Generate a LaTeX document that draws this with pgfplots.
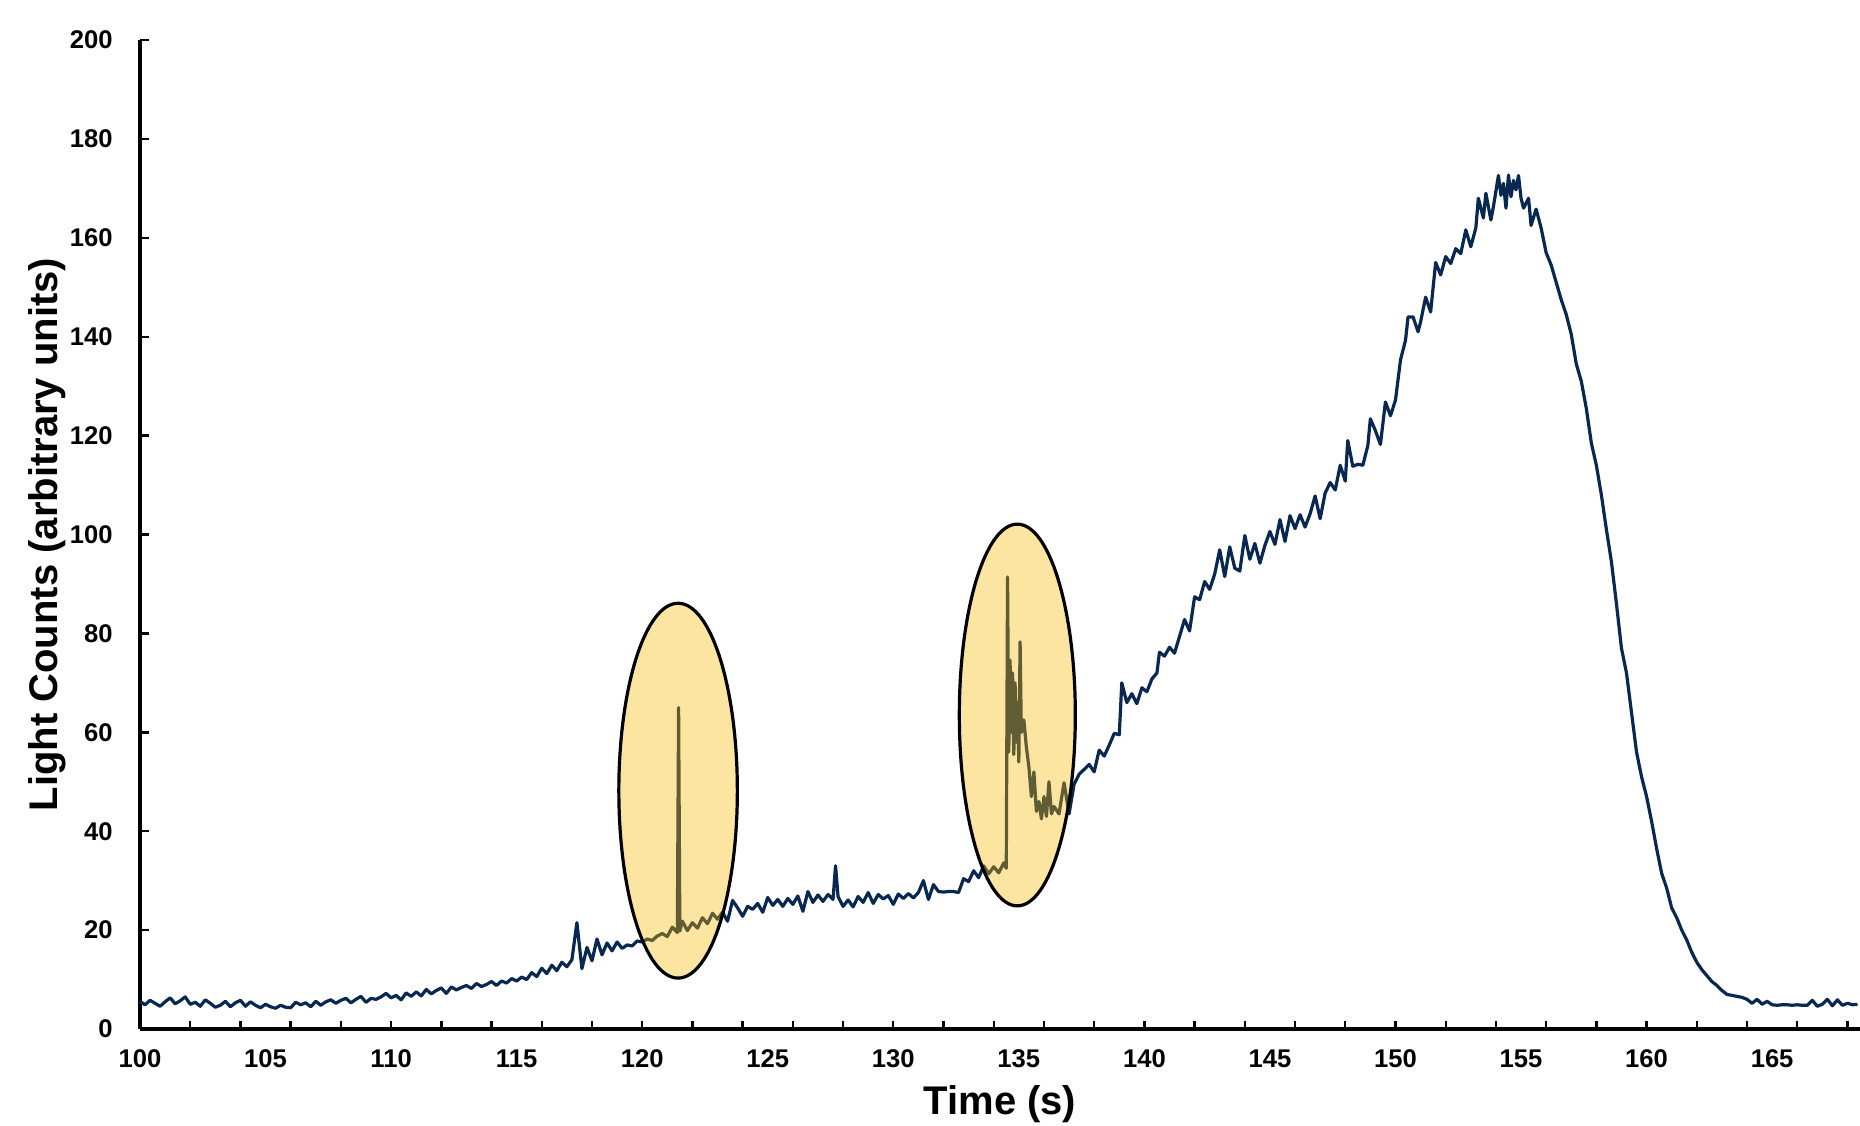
\documentclass[border=0pt]{standalone}
\usepackage{fontspec}
\setmainfont{Liberation Sans}
\usepackage{pgfplots}
\pgfplotsset{compat=1.18}
\definecolor{navy}{RGB}{8,40,82}
\definecolor{gold}{RGB}{247,182,0}

\begin{document}
\begin{tikzpicture}
\begin{axis}[
  scale only axis,
  width=430pt, height=247.25pt,
  xmin=100, xmax=168.5, ymin=0, ymax=200,
  axis lines=left,
  axis line style={-, line width=0.8pt, black},
  xtick={100,105,...,165},
  minor xtick={102,104,...,168},
  ytick={0,20,...,200},
  major x tick style={draw=none},
  minor x tick style={line width=0.6pt, black},
  major y tick style={line width=0.6pt, black},
  minor tick length=1.9pt,
  major tick length=2.2pt,
  tick align=inside,
  /pgf/number format/assume math mode=true,
  /pgf/number format/1000 sep={},
  tick label style={font=\fontsize{6.4}{7}\selectfont\bfseries},
  xticklabel style={yshift=-1.7pt},
  yticklabel style={xshift=-3.3pt},
  xlabel={Time (s)},
  ylabel={Light Counts (arbitrary units)},
  label style={font=\fontsize{10}{12}\selectfont\bfseries},
  xlabel style={at={(axis description cs:0.5,0)}, anchor=center, yshift=-18.8pt},
  ylabel style={at={(axis description cs:0,0.5)}, anchor=center, rotate=0, yshift=23.3pt},
  clip=false,
]
\addplot[navy, line width=0.8pt, line join=round] table[x=t, y=v] {
t v
100.0 5.6
100.2 4.9
100.4 5.8
100.6 5.2
100.8 4.6
101.0 5.5
101.2 6.3
101.4 5.1
101.6 5.7
101.8 6.5
102.0 5.0
102.2 5.4
102.4 4.6
102.6 5.9
102.8 5.2
103.0 4.4
103.2 4.8
103.4 5.6
103.6 4.5
103.8 5.3
104.0 5.8
104.2 4.6
104.4 5.5
104.6 4.8
104.8 4.3
105.0 5.0
105.2 4.5
105.4 4.2
105.6 4.8
105.8 4.4
106.0 4.3
106.2 5.4
106.4 4.9
106.6 5.3
106.8 4.5
107.0 5.6
107.2 4.8
107.4 5.5
107.6 5.9
107.8 5.2
108.0 5.8
108.2 6.2
108.4 5.3
108.6 6.0
108.8 6.6
109.0 5.4
109.2 6.2
109.4 6.0
109.6 6.5
109.8 7.2
110.0 6.3
110.2 6.8
110.4 5.9
110.6 7.3
110.8 6.6
111.0 7.5
111.2 6.7
111.4 8.0
111.6 7.1
111.8 7.8
112.0 8.3
112.2 7.2
112.4 8.5
112.6 7.9
112.8 8.4
113.0 8.8
113.2 8.2
113.4 9.2
113.6 8.6
113.8 9.0
114.0 9.6
114.2 8.8
114.4 9.7
114.6 9.3
114.8 10.2
115.0 9.7
115.2 10.5
115.4 10.0
115.6 11.4
115.8 10.6
116.0 12.3
116.2 11.2
116.4 12.9
116.6 11.8
116.8 13.5
117.0 12.6
117.2 14.0
117.4 21.5
117.6 12.2
117.8 16.5
118.0 13.8
118.2 18.2
118.4 15.0
118.6 17.4
118.8 15.8
119.0 17.6
119.2 16.3
119.4 17.0
119.6 16.8
119.8 17.8
120.0 17.6
120.2 18.2
120.4 17.9
120.6 18.8
120.8 19.3
121.0 18.7
121.2 20.6
121.4 19.5
121.45 65.0
121.5 19.8
121.6 21.8
121.8 19.9
122.0 21.5
122.2 20.4
122.4 22.5
122.6 21.3
122.8 23.4
123.0 22.2
123.2 23.6
123.4 21.8
123.6 26.0
123.8 24.5
124.0 22.8
124.2 24.8
124.4 24.2
124.6 25.4
124.8 23.6
125.0 26.6
125.2 25.0
125.4 26.2
125.6 24.8
125.8 26.4
126.0 25.2
126.2 26.9
126.4 23.8
126.6 27.8
126.8 25.6
127.0 27.1
127.2 25.8
127.4 27.2
127.6 26.2
127.7 33.0
127.8 26.8
128.0 24.8
128.2 26.1
128.4 24.7
128.6 26.8
128.8 25.6
129.0 27.6
129.2 25.4
129.4 27.2
129.6 26.3
129.8 27.0
130.0 25.2
130.2 27.3
130.4 26.4
130.6 27.4
130.8 26.5
131.0 27.6
131.2 30.0
131.4 26.2
131.6 29.2
131.8 27.8
132.0 27.7
132.2 27.8
132.4 27.8
132.6 27.6
132.8 30.4
133.0 29.8
133.2 32.0
133.4 30.6
133.6 33.0
133.8 31.4
134.0 32.8
134.2 31.6
134.4 33.6
134.5 32.5
134.55 91.4
134.6 56.0
134.65 74.6
134.7 60.0
134.75 72.0
134.8 55.5
134.85 70.0
134.9 58.0
134.95 66.0
135.0 54.0
135.05 78.3
135.1 60.0
135.2 62.5
135.3 57.0
135.4 53.0
135.5 47.0
135.6 52.0
135.7 44.0
135.8 46.0
135.9 42.5
136.0 47.0
136.1 43.0
136.2 50.0
136.3 43.5
136.4 45.0
136.6 43.5
136.8 49.8
137.0 43.5
137.2 49.5
137.4 51.5
137.6 52.5
137.8 53.5
138.0 52.0
138.2 56.4
138.4 55.2
138.6 57.4
138.8 59.8
139.0 59.5
139.1 70.0
139.3 66.0
139.5 67.8
139.7 65.8
139.9 69.0
140.1 68.2
140.3 70.8
140.5 72.0
140.6 76.2
140.8 75.4
141.0 77.2
141.2 76.0
141.4 79.4
141.6 82.8
141.8 80.5
142.0 87.4
142.2 86.8
142.4 90.5
142.6 88.9
142.8 92.0
143.0 96.9
143.2 91.5
143.4 97.5
143.6 93.2
143.8 92.6
144.0 99.8
144.2 95.0
144.4 98.2
144.6 94.2
144.8 97.8
145.0 100.6
145.2 98.0
145.4 103.0
145.6 98.6
145.8 103.8
146.0 101.2
146.2 104.0
146.4 101.5
146.6 104.2
146.8 107.8
147.0 103.2
147.2 108.4
147.4 110.5
147.6 109.0
147.8 114.0
148.0 110.8
148.1 119.0
148.3 113.8
148.5 114.2
148.7 114.0
148.9 118.0
149.0 123.4
149.2 121.0
149.4 118.2
149.6 126.8
149.8 124.0
150.0 127.2
150.2 135.3
150.4 139.3
150.5 144.0
150.7 144.0
150.9 141.0
151.0 143.0
151.2 148.0
151.4 145.0
151.6 155.0
151.8 152.5
152.0 156.2
152.2 154.8
152.4 157.8
152.6 156.8
152.8 161.6
153.0 158.2
153.2 162.0
153.3 168.0
153.5 164.0
153.6 169.0
153.8 163.6
153.9 166.3
154.1 172.6
154.2 168.6
154.3 171.0
154.4 166.0
154.5 172.7
154.6 168.3
154.7 171.6
154.8 169.7
154.9 172.6
155.0 168.0
155.1 166.0
155.3 168.0
155.4 162.5
155.6 165.8
155.8 162.0
156.0 157.0
156.2 154.5
156.4 151.0
156.6 147.5
156.8 144.5
157.0 140.5
157.2 134.5
157.4 131.0
157.6 125.5
157.8 118.5
158.0 114.0
158.2 108.0
158.4 101.0
158.6 94.5
158.8 86.0
159.0 77.0
159.2 72.0
159.4 64.0
159.6 56.0
159.8 51.0
160.0 47.0
160.2 42.0
160.4 36.5
160.6 31.5
160.8 28.5
161.0 24.5
161.2 22.5
161.4 20.0
161.6 18.0
161.8 15.5
162.0 13.5
162.2 12.0
162.4 10.8
162.6 9.6
162.8 8.8
163.0 7.8
163.2 7.0
163.4 6.8
163.6 6.6
163.8 6.4
164.0 6.0
164.2 5.2
164.4 6.0
164.6 5.0
164.8 5.6
165.0 4.9
165.2 4.8
165.4 4.9
165.6 4.9
165.8 4.8
166.0 4.9
166.2 4.8
166.4 4.8
166.6 5.8
166.8 4.6
167.0 5.0
167.2 6.0
167.4 4.7
167.6 5.9
167.8 4.8
168.0 5.2
168.2 4.9
168.4 5.0
};
\draw[black, line width=0.8pt, fill=gold, fill opacity=0.37]
  (axis cs:121.43,48.2) ellipse [x radius=2.36, y radius=37.9];
\draw[black, line width=0.8pt, fill=gold, fill opacity=0.37]
  (axis cs:134.94,63.5) ellipse [x radius=2.31, y radius=38.6];
\end{axis}
\pgfresetboundingbox
\path ([xshift=-35pt,yshift=-24pt]current axis.south west) rectangle ([yshift=10pt]current axis.north east);
\end{tikzpicture}
\end{document}
